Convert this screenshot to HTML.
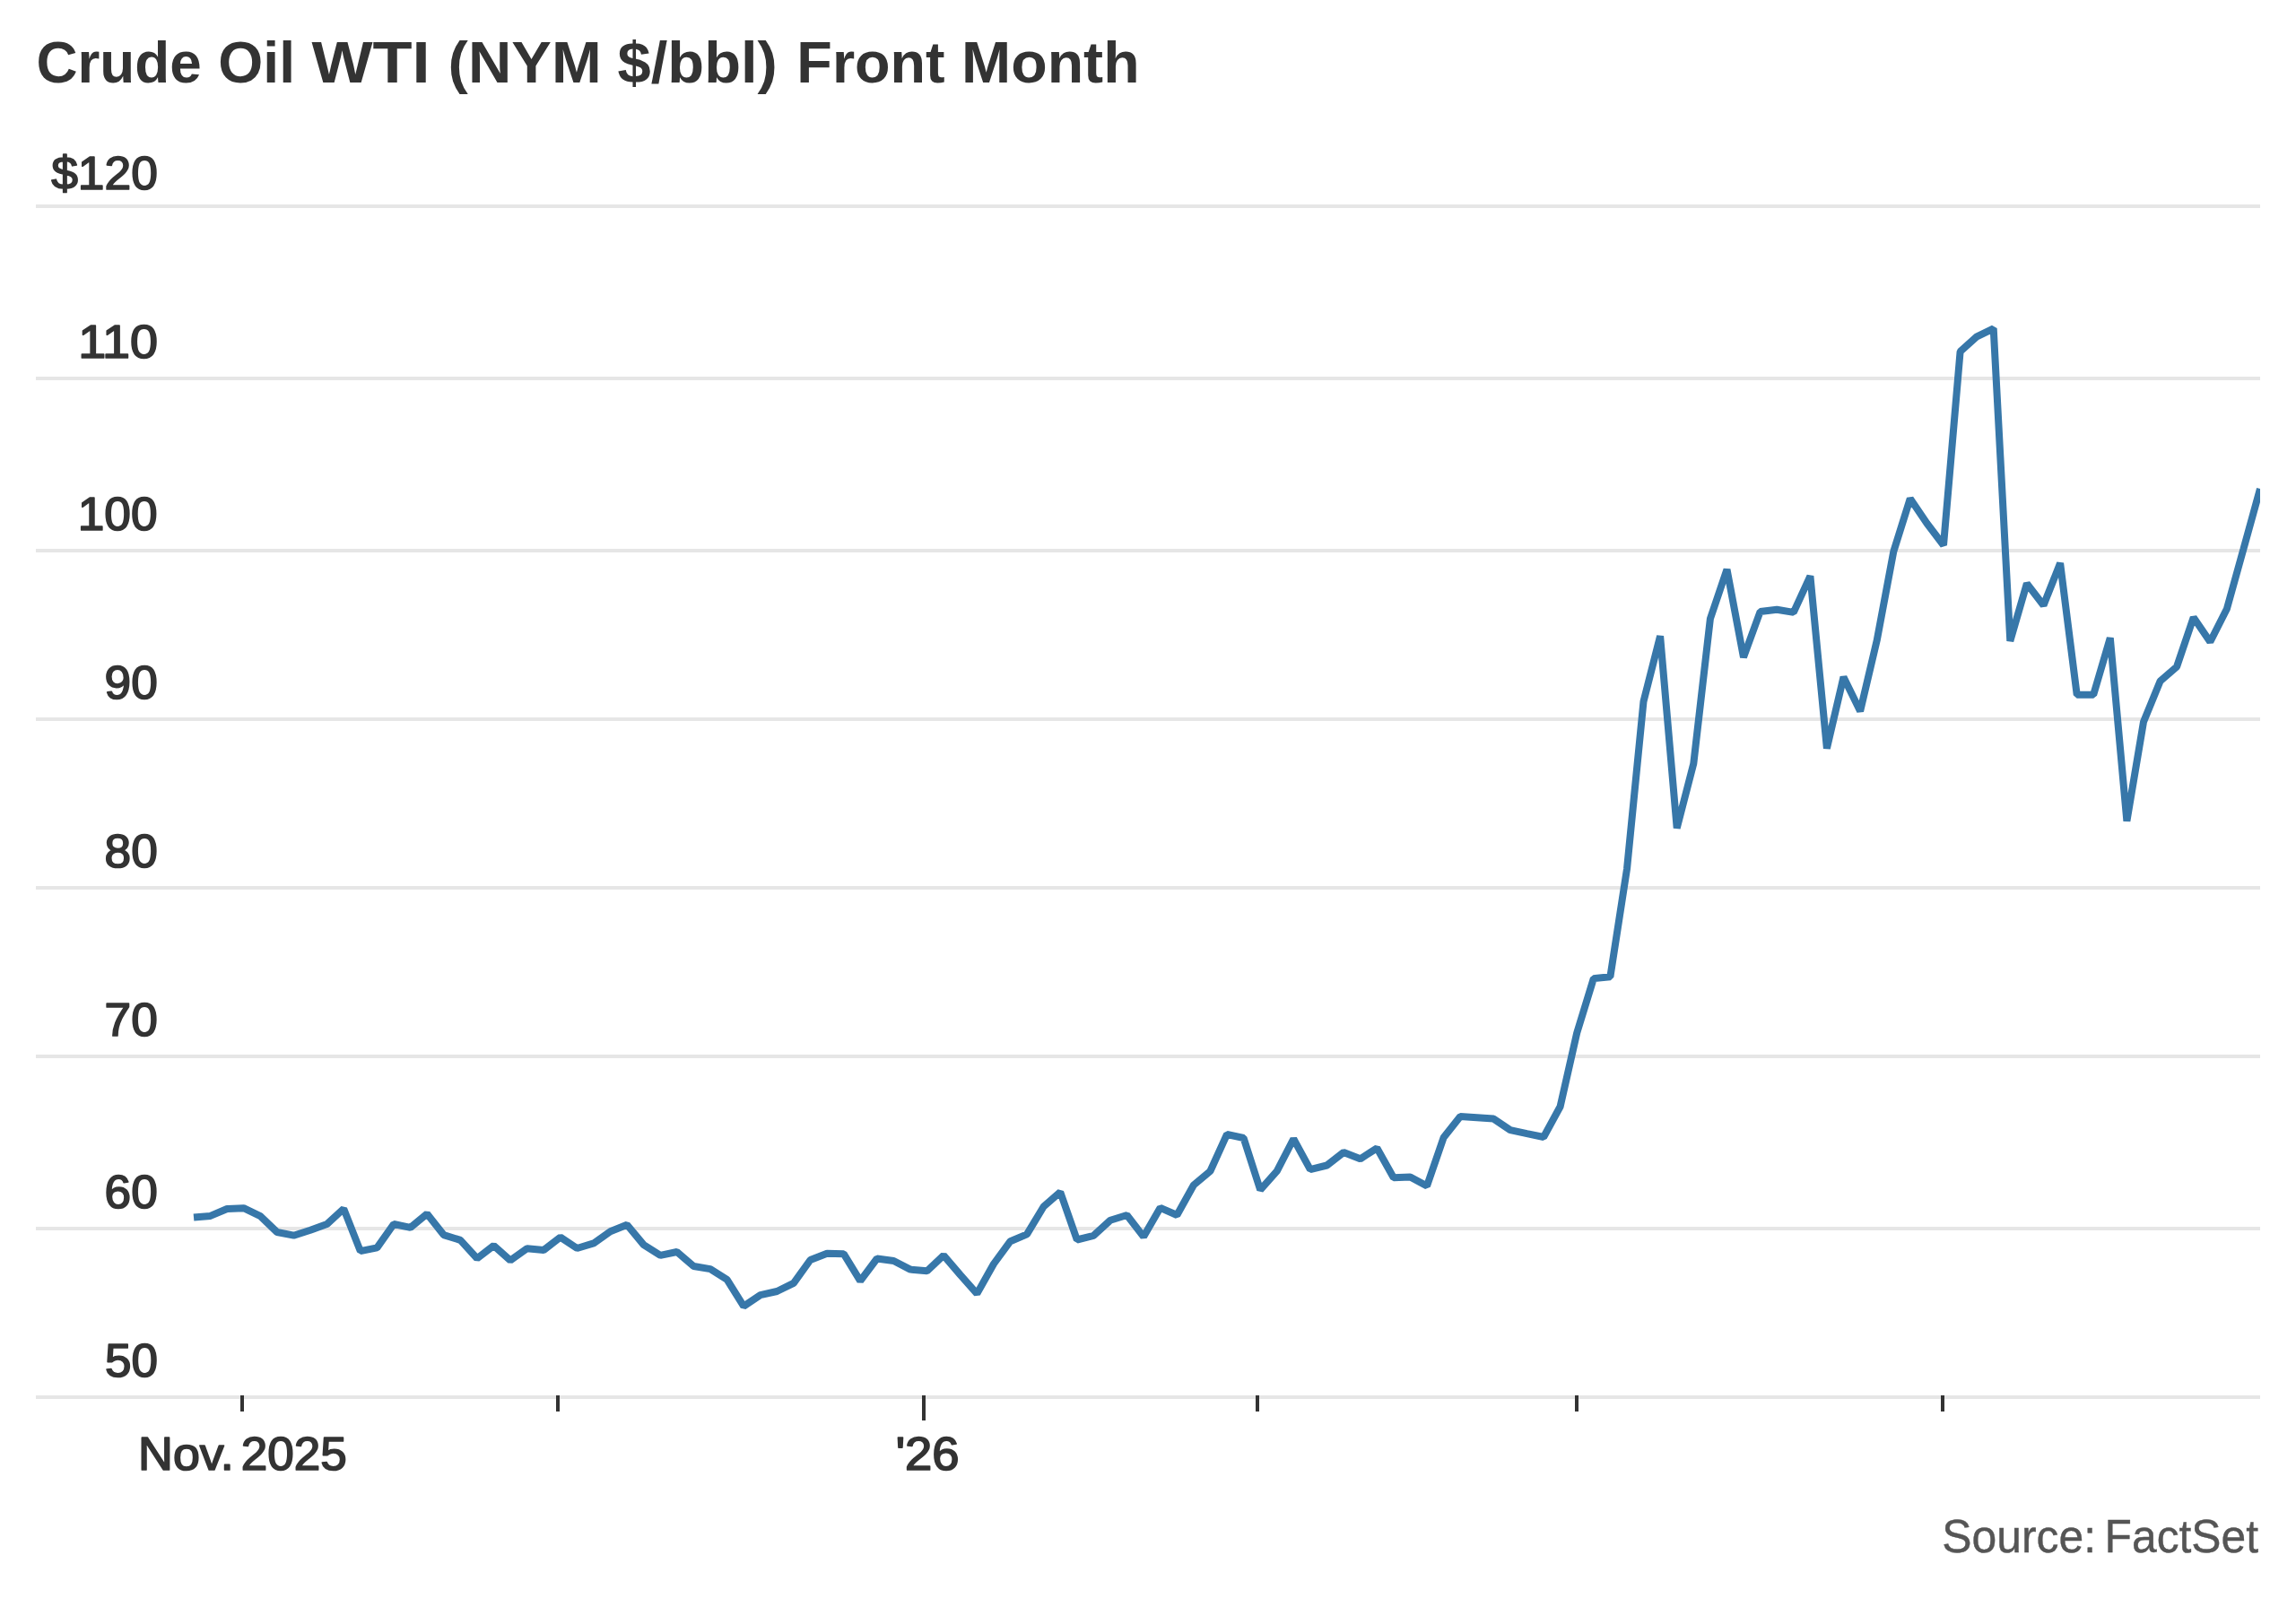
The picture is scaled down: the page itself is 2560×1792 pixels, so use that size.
<!DOCTYPE html>
<html lang="en">
<head>
<meta charset="utf-8">
<title>Crude Oil WTI (NYM $/bbl) Front Month</title>
<style>
html,body{margin:0;padding:0;background:#fff;}
body{width:2560px;height:1792px;overflow:hidden;}
svg{display:block;}
text{font-family:"Liberation Sans", Arial, Helvetica, sans-serif;}
.title{font-weight:700;font-size:65px;fill:#333;}
.ylab{font-weight:400;font-size:51.5px;fill:#333;stroke:#333;stroke-width:1.7px;stroke-linejoin:round;}
.xlab{font-weight:400;font-size:51.5px;fill:#333;stroke:#333;stroke-width:1.7px;stroke-linejoin:round;}
.src{font-weight:400;font-size:51.5px;fill:#555;stroke:#555;stroke-width:0.4px;}
.grid rect{fill:#e6e6e6;}
.tick rect{fill:#333;}
</style>
</head>
<body>
<svg width="2560" height="1792" viewBox="0 0 2560 1792">
<rect x="0" y="0" width="2560" height="1792" fill="#fff"/>
<text class="title" y="92"><tspan x="40.44" textLength="184.40" lengthAdjust="spacingAndGlyphs">Crude</tspan> <tspan x="243.29" textLength="85.75" lengthAdjust="spacingAndGlyphs">Oil</tspan> <tspan x="347.42" textLength="132.17" lengthAdjust="spacingAndGlyphs">WTI</tspan> <tspan x="499.61" textLength="171.03" lengthAdjust="spacingAndGlyphs">(NYM</tspan> <tspan x="688.61" textLength="178.24" lengthAdjust="spacingAndGlyphs">$/bbl)</tspan> <tspan x="888.37" textLength="165.31" lengthAdjust="spacingAndGlyphs">Front</tspan> <tspan x="1072.07" textLength="198.53" lengthAdjust="spacingAndGlyphs">Month</tspan> </text>
<g class="grid">
<rect x="40" y="228" width="2480" height="4"/>
<rect x="40" y="420" width="2480" height="4"/>
<rect x="40" y="612" width="2480" height="4"/>
<rect x="40" y="800" width="2480" height="4"/>
<rect x="40" y="988" width="2480" height="4"/>
<rect x="40" y="1176" width="2480" height="4"/>
<rect x="40" y="1368" width="2480" height="4"/>
<rect x="40" y="1556" width="2480" height="4"/>
</g>
<g>
<text class="ylab" x="57.19" y="211.05" textLength="118.70" lengthAdjust="spacingAndGlyphs">$120</text>
<text class="ylab" x="87.22" y="399.15" textLength="88.90" lengthAdjust="spacingAndGlyphs">110</text>
<text class="ylab" x="86.72" y="591.05" textLength="88.90" lengthAdjust="spacingAndGlyphs">100</text>
<text class="ylab" x="116.57" y="779.15" textLength="59.20" lengthAdjust="spacingAndGlyphs">90</text>
<text class="ylab" x="116.57" y="967.05" textLength="59.20" lengthAdjust="spacingAndGlyphs">80</text>
<text class="ylab" x="116.57" y="1155.15" textLength="59.20" lengthAdjust="spacingAndGlyphs">70</text>
<text class="ylab" x="116.57" y="1347.15" textLength="59.20" lengthAdjust="spacingAndGlyphs">60</text>
<text class="ylab" x="117.00" y="1535.35" textLength="59.00" lengthAdjust="spacingAndGlyphs">50</text>
</g>
<defs><clipPath id="plotclip"><rect x="40" y="200" width="2480" height="1380"/></clipPath></defs>
<g clip-path="url(#plotclip)"><polyline fill="none" stroke="#3777a9" stroke-width="8" stroke-linejoin="bevel" stroke-linecap="butt" points="216.0,1357.6 234.6,1355.9 253.2,1348.0 271.7,1347.2 290.3,1356.1 308.9,1374.0 327.5,1377.7 346.1,1371.7 364.6,1365.0 383.2,1347.9 401.8,1395.1 420.4,1391.4 439.0,1365.0 457.6,1368.8 476.1,1353.6 494.7,1377.1 513.3,1382.9 531.9,1403.3 550.5,1389.0 569.0,1405.4 587.6,1392.3 606.2,1394.0 624.8,1379.6 643.4,1392.0 661.9,1386.4 680.5,1373.3 699.1,1365.8 717.7,1388.1 736.3,1399.8 754.8,1396.0 773.4,1412.0 792.0,1415.1 810.6,1426.8 829.2,1456.6 847.8,1444.2 866.3,1440.0 884.9,1430.8 903.5,1405.0 922.1,1397.7 940.7,1398.2 959.2,1428.3 977.8,1403.5 996.4,1406.0 1015.0,1415.6 1033.6,1417.3 1052.1,1399.9 1070.7,1421.7 1089.3,1442.6 1107.9,1409.5 1126.5,1384.2 1145.0,1376.4 1163.6,1345.5 1182.2,1329.3 1200.8,1382.5 1219.4,1377.8 1238.0,1360.7 1256.5,1355.0 1275.1,1379.1 1293.7,1346.8 1312.3,1355.0 1330.9,1321.5 1349.4,1306.0 1368.0,1265.0 1386.6,1269.0 1405.2,1326.9 1423.8,1305.9 1442.3,1270.0 1460.9,1304.2 1479.5,1299.5 1498.1,1285.0 1516.7,1292.3 1535.3,1280.3 1553.8,1313.2 1572.4,1312.4 1591.0,1322.5 1609.6,1268.5 1628.2,1245.0 1646.7,1246.2 1665.3,1247.6 1683.9,1260.1 1702.5,1264.1 1721.1,1268.0 1739.6,1234.0 1758.2,1151.9 1776.8,1091.2 1795.4,1089.2 1814.0,969.0 1832.5,782.2 1851.1,709.3 1869.7,923.5 1888.3,851.5 1906.9,690.0 1925.5,635.0 1944.0,733.0 1962.6,682.0 1981.2,679.7 1999.8,682.9 2018.4,642.4 2036.9,834.5 2055.5,755.0 2074.1,793.0 2092.7,714.2 2111.3,615.0 2129.8,556.0 2148.4,583.5 2167.0,608.0 2185.6,392.0 2204.2,375.3 2222.7,366.3 2241.3,714.9 2259.9,650.7 2278.5,675.0 2297.1,628.0 2315.7,774.7 2334.2,774.7 2352.8,711.3 2371.4,915.7 2390.0,805.0 2408.6,759.5 2427.1,743.4 2445.7,688.5 2464.3,715.8 2482.9,679.0 2501.5,612.0 2520.0,545.0"/></g>
<g class="tick">
<rect x="268" y="1556" width="4" height="18"/>
<rect x="620" y="1556" width="4" height="18"/>
<rect x="1028" y="1556" width="4" height="28"/>
<rect x="1400" y="1556" width="4" height="18"/>
<rect x="1756" y="1556" width="4" height="18"/>
<rect x="2164" y="1556" width="4" height="18"/>
</g>
<text class="xlab" y="1639.15"><tspan x="154.04" textLength="106.67" lengthAdjust="spacingAndGlyphs">Nov.</tspan> <tspan x="268.87" textLength="117.96" lengthAdjust="spacingAndGlyphs">2025</tspan> </text>
<text class="xlab" x="998.65" y="1639.15" textLength="70.92" lengthAdjust="spacingAndGlyphs">'26</text>
<text class="src" y="1730.9"><tspan x="2165.25" textLength="171.75" lengthAdjust="spacingAndGlyphs">Source:</tspan> <tspan x="2346.60" textLength="171.44" lengthAdjust="spacingAndGlyphs">FactSet</tspan> </text>
</svg>
</body>
</html>
